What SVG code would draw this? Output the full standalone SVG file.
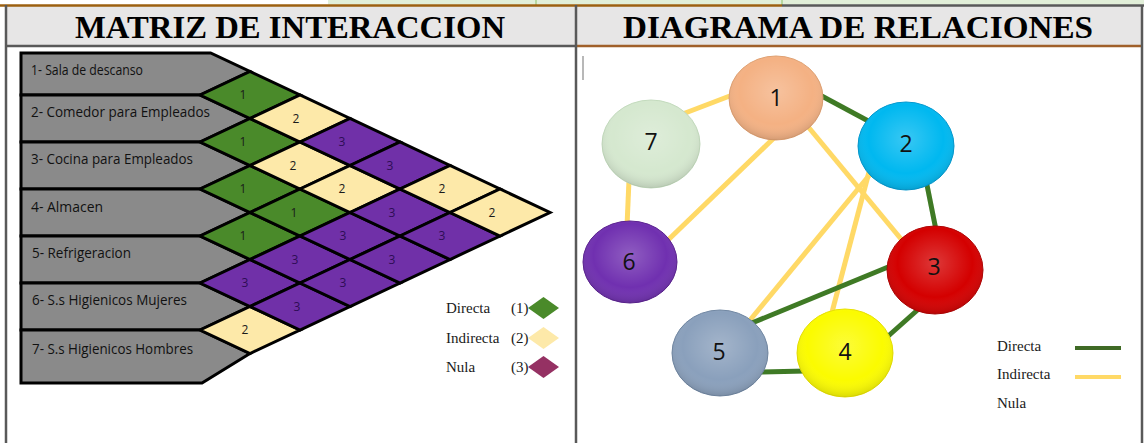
<svg xmlns="http://www.w3.org/2000/svg" width="1144" height="443" viewBox="0 0 1144 443">
<style>
.title{font-family:"Liberation Serif","DejaVu Serif",serif;font-weight:bold;font-size:31px;fill:#000}
.row{fill:#8a8a8a;stroke:#000;stroke-width:3;stroke-linejoin:miter}
.rt{font-family:"Open Sans","Liberation Sans",Arial,sans-serif;font-size:14px;fill:#111}
.d{stroke:#000;stroke-width:3;stroke-linejoin:miter}
.g{fill:#4a8a2a}
.y{fill:#fde9a9}
.p{fill:#7030a8}
.dn{font-family:"Open Sans","Liberation Sans",Arial,sans-serif;font-size:12px;text-anchor:middle;fill:#1a1a1a}
.dnp{fill:#2e0d55}
.lg{font-family:"Liberation Serif","DejaVu Serif",serif;font-size:15px;fill:#1a1a1a}
.cd{stroke:#3f7a25;stroke-width:5;stroke-linecap:butt}
.ci{stroke:#ffd966;stroke-width:5;stroke-linecap:butt}
.nt{font-family:"Open Sans","Liberation Sans",Arial,sans-serif;font-size:23px;text-anchor:middle;fill:#111}
</style>
<defs>
<path id="dm" d="M-50 0 L0 -23.5 L50 0 L0 23.5 Z"/>
<radialGradient id="gl" cx="0.5" cy="0.42" r="0.6">
<stop offset="0" stop-color="#fff" stop-opacity="0.22"/>
<stop offset="0.65" stop-color="#fff" stop-opacity="0"/>
<stop offset="1" stop-color="#000" stop-opacity="0.16"/>
</radialGradient>
</defs>
<rect width="1144" height="443" fill="#fff"/>
<!-- top strip -->
<rect x="328" y="0" width="816" height="4.5" fill="#e2efd9"/>
<line x1="536" y1="0" x2="536" y2="5" stroke="#a9d18e" stroke-width="1.5"/>
<line x1="782" y1="0" x2="782" y2="5" stroke="#a9d18e" stroke-width="1.5"/>
<!-- header -->
<rect x="6" y="6" width="1136" height="40" fill="#e7e6e6"/>
<line x1="0" y1="5.5" x2="782" y2="5.5" stroke="#9c6010" stroke-width="2.5"/>
<line x1="782" y1="5.5" x2="1144" y2="5.5" stroke="#595959" stroke-width="2.5"/>
<line x1="6" y1="46" x2="576" y2="46" stroke="#595959" stroke-width="2.5"/>
<line x1="576" y1="46" x2="1142" y2="46" stroke="#a0602a" stroke-width="2.5"/>
<line x1="6" y1="5" x2="6" y2="443" stroke="#595959" stroke-width="2.5"/>
<line x1="576" y1="5" x2="576" y2="443" stroke="#595959" stroke-width="2.5"/>
<line x1="1142" y1="5" x2="1142" y2="443" stroke="#595959" stroke-width="2.5"/>
<text class="title" x="75" y="38" textLength="430" lengthAdjust="spacingAndGlyphs">MATRIZ DE INTERACCION</text>
<text class="title" x="623" y="38" textLength="470" lengthAdjust="spacingAndGlyphs">DIAGRAMA DE RELACIONES</text>

<!-- matrix rows -->
<g id="row1"><polygon class="row" points="21,53 210.6,53 250,71.5 200,95 21,95"/><text class="rt" x="31" y="75" textLength="112" lengthAdjust="spacingAndGlyphs">1- Sala de descanso</text></g>
<g id="row2"><polygon class="row" points="21,95 200,95 250,118.5 200,142 21,142"/><text class="rt" x="31" y="117" textLength="179" lengthAdjust="spacingAndGlyphs">2- Comedor para Empleados</text></g>
<g id="row3"><polygon class="row" points="21,142 200,142 250,165.5 200,189 21,189"/><text class="rt" x="31" y="164" textLength="162" lengthAdjust="spacingAndGlyphs">3- Cocina para Empleados</text></g>
<g id="row4"><polygon class="row" points="21,189 200,189 250,212.5 200,236 21,236"/><text class="rt" x="31" y="212" textLength="72" lengthAdjust="spacingAndGlyphs">4- Almacen</text></g>
<g id="row5"><polygon class="row" points="21,236 200,236 250,259.5 200,283 21,283"/><text class="rt" x="32" y="258" textLength="99" lengthAdjust="spacingAndGlyphs">5- Refrigeracion</text></g>
<g id="row6"><polygon class="row" points="21,283 200,283 250,306.5 200,330 21,330"/><text class="rt" x="32" y="305" textLength="155" lengthAdjust="spacingAndGlyphs">6- S.s Higienicos Mujeres</text></g>
<g id="row7"><polygon class="row" points="21,330 200,330 250,353.5 202,383 21,383"/><text class="rt" x="32" y="354" textLength="161" lengthAdjust="spacingAndGlyphs">7- S.s Higienicos Hombres</text></g>

<!-- matrix cells -->
<g id="cells">
<g id="c12"><use href="#dm" class="d g" x="250" y="95"/><text class="dn" x="243" y="99">1</text></g>
<g id="c23"><use href="#dm" class="d g" x="250" y="142"/><text class="dn" x="243" y="146">1</text></g>
<g id="c34"><use href="#dm" class="d g" x="250" y="189"/><text class="dn" x="243" y="193">1</text></g>
<g id="c45"><use href="#dm" class="d g" x="250" y="236"/><text class="dn" x="243" y="240">1</text></g>
<g id="c56"><use href="#dm" class="d p" x="250" y="283"/><text class="dn dnp" x="245" y="287">3</text></g>
<g id="c67"><use href="#dm" class="d y" x="250" y="330"/><text class="dn" x="245" y="334">2</text></g>
<g id="c13"><use href="#dm" class="d y" x="300" y="118.5"/><text class="dn" x="296" y="123">2</text></g>
<g id="c24"><use href="#dm" class="d y" x="300" y="165.5"/><text class="dn" x="293" y="170">2</text></g>
<g id="c35"><use href="#dm" class="d g" x="300" y="212.5"/><text class="dn" x="294" y="217">1</text></g>
<g id="c46"><use href="#dm" class="d p" x="300" y="259.5"/><text class="dn dnp" x="295" y="264">3</text></g>
<g id="c57"><use href="#dm" class="d p" x="300" y="306.5"/><text class="dn dnp" x="297" y="311">3</text></g>
<g id="c14"><use href="#dm" class="d p" x="350" y="142"/><text class="dn dnp" x="342" y="146">3</text></g>
<g id="c25"><use href="#dm" class="d y" x="350" y="189"/><text class="dn" x="342" y="193">2</text></g>
<g id="c36"><use href="#dm" class="d p" x="350" y="236"/><text class="dn dnp" x="343" y="240">3</text></g>
<g id="c47"><use href="#dm" class="d p" x="350" y="283"/><text class="dn dnp" x="343" y="287">3</text></g>
<g id="c15"><use href="#dm" class="d p" x="400" y="165.5"/><text class="dn dnp" x="390" y="170">3</text></g>
<g id="c26"><use href="#dm" class="d p" x="400" y="212.5"/><text class="dn dnp" x="392" y="217">3</text></g>
<g id="c37"><use href="#dm" class="d p" x="400" y="259.5"/><text class="dn dnp" x="392" y="264">3</text></g>
<g id="c16"><use href="#dm" class="d y" x="450" y="189"/><text class="dn" x="442" y="193">2</text></g>
<g id="c27"><use href="#dm" class="d p" x="450" y="236"/><text class="dn dnp" x="442" y="240">3</text></g>
<g id="c17"><use href="#dm" class="d y" x="500" y="212.5"/><text class="dn" x="492" y="217">2</text></g>
</g>

<!-- left legend -->
<g id="legend-left">
<text class="lg" x="446" y="313">Directa</text><text class="lg" x="511" y="313">(1)</text>
<path d="M528 308 L543.5 297 L559 308 L543.5 319 Z" fill="#4a8a2a"/>
<text class="lg" x="446" y="343">Indirecta</text><text class="lg" x="511" y="343">(2)</text>
<path d="M528 338 L543.5 327 L559 338 L543.5 349 Z" fill="#fde9a9"/>
<text class="lg" x="446" y="372">Nula</text><text class="lg" x="511" y="372">(3)</text>
<path d="M528 367 L543.5 356 L559 367 L543.5 378 Z" fill="#953163"/>
</g>

<!-- cursor mark -->
<line x1="583" y1="56" x2="583" y2="80" stroke="#a0a0a0" stroke-width="1.5"/>

<!-- connectors -->
<g id="connectors">
<line class="ci" x1="735" y1="94" x2="680" y2="115"/>
<line class="cd" x1="818" y1="94" x2="872" y2="123"/>
<line class="ci" x1="776" y1="136" x2="666" y2="242"/>
<line class="ci" x1="805" y1="123" x2="906" y2="245"/>
<line class="ci" x1="629" y1="180" x2="627" y2="226"/>
<line class="ci" x1="872" y1="172" x2="746" y2="325"/>
<line class="ci" x1="869" y1="172" x2="831" y2="316"/>
<line class="cd" x1="926" y1="180" x2="936" y2="230"/>
<line class="cd" x1="893" y1="265" x2="747" y2="325"/>
<line class="cd" x1="922" y1="306" x2="886" y2="338"/>
<line class="cd" x1="758" y1="372" x2="806" y2="371"/>
</g>

<!-- nodes -->
<g id="n1"><ellipse cx="776" cy="98" rx="47" ry="42" fill="#f4b183" stroke="#e0a070"/><ellipse cx="776" cy="98" rx="47" ry="42" fill="url(#gl)"/><text class="nt" x="776" y="106">1</text></g>
<g id="n2"><ellipse cx="906" cy="146" rx="48" ry="44" fill="#00b8f0" stroke="#0098d0"/><ellipse cx="906" cy="146" rx="48" ry="44" fill="url(#gl)"/><text class="nt" x="906" y="152">2</text></g>
<g id="n3"><ellipse cx="935" cy="270" rx="48" ry="44" fill="#d40000" stroke="#b00000"/><ellipse cx="935" cy="270" rx="48" ry="44" fill="url(#gl)"/><text class="nt" x="934" y="275">3</text></g>
<g id="n4"><ellipse cx="845" cy="353" rx="48" ry="44" fill="#fbfb00" stroke="#e8e000"/><ellipse cx="845" cy="353" rx="48" ry="44" fill="url(#gl)"/><text class="nt" x="845" y="360">4</text></g>
<g id="n5"><ellipse cx="720" cy="353" rx="48" ry="43" fill="#8aa0bc" stroke="#6f86a2"/><ellipse cx="720" cy="353" rx="48" ry="43" fill="url(#gl)"/><text class="nt" x="719" y="360">5</text></g>
<g id="n6"><ellipse cx="630" cy="262" rx="47" ry="41" fill="#7030b0" stroke="#5a2090"/><ellipse cx="630" cy="262" rx="47" ry="41" fill="url(#gl)"/><text class="nt" x="629" y="270">6</text></g>
<g id="n7"><ellipse cx="651" cy="144" rx="49" ry="44" fill="#d5e8cf" stroke="#c3dbbd"/><ellipse cx="651" cy="144" rx="49" ry="44" fill="url(#gl)"/><text class="nt" x="651" y="150">7</text></g>

<!-- right legend -->
<g id="legend-right">
<text class="lg" x="997" y="351" font-size="14">Directa</text>
<line x1="1075" y1="348" x2="1121" y2="348" stroke="#3f6a25" stroke-width="4"/>
<text class="lg" x="997" y="379" font-size="14">Indirecta</text>
<line x1="1075" y1="377" x2="1121" y2="377" stroke="#ffd966" stroke-width="4"/>
<text class="lg" x="997" y="408" font-size="14">Nula</text>
</g>
</svg>
